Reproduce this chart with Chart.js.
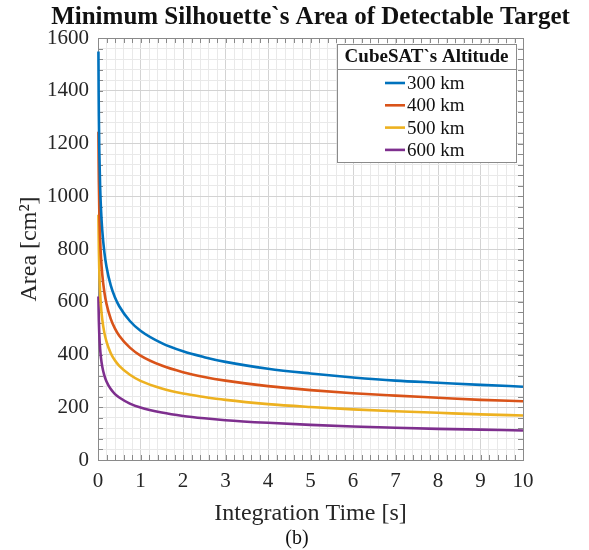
<!DOCTYPE html>
<html>
<head>
<meta charset="utf-8">
<title>Minimum Silhouette`s Area of Detectable Target</title>
<script src="https://cdn.jsdelivr.net/npm/chart.js@4.4.1/dist/chart.umd.min.js"></script>
<style>
  html, body { margin: 0; padding: 0; background: #fff; }
  #wrap { position: relative; width: 589px; height: 550px; }
</style>
</head>
<body>
<div id="wrap"><canvas id="area-chart" width="589" height="550"></canvas></div>
<script>
// ── Data ────────────────────────────────────────────────────

const integrationTime = [0.01, 0.015, 0.02, 0.03, 0.05, 0.07, 0.1, 0.15, 0.2, 0.3, 0.4, 0.5, 0.75,
                         1, 1.5, 2, 2.5, 3, 4, 5, 6, 7, 8, 9, 10];

const area300km = [1549, 1400, 1303, 1177, 1036, 952, 871, 787, 733, 662, 616, 583, 527,
                   490, 443, 412, 390, 372, 346, 328, 313, 301, 293, 285, 278];
const area400km = [1245, 1131, 1053, 952, 838, 769, 704, 636, 592, 535, 498, 471, 426,
                   396, 358, 333, 315, 301, 280, 265, 253, 244, 236, 228, 223];
const area500km = [930, 857, 798, 721, 635, 583, 533, 482, 449, 405, 377, 357, 323,
                   300, 271, 252, 239, 228, 212, 201, 192, 185, 179, 173, 169];
const area600km = [620, 569, 529, 478, 421, 387, 354, 320, 298, 269, 250, 237, 214,
                   199, 180, 167, 158, 151, 141, 133, 127, 122, 118, 115, 112];

const altitudeLabels = ['300 km', '400 km', '500 km', '600 km'];
const xMajorTicks = [0, 1, 2, 3, 4, 5, 6, 7, 8, 9, 10];
const yMajorTicks = [0, 200, 400, 600, 800, 1000, 1200, 1400, 1600];

// ── Style ───────────────────────────────────────────────────

const COLORS = ['#0072BD', '#D95319', '#EDB120', '#7E2F8E'];
const SERIF = '"Liberation Serif", "Times New Roman", serif';
const TEXT = '#262626';
const FRAME = '#8a8a8a';

const isMajor = (v, list) => list.some(m => Math.abs(m - v) < 1e-6);

const seriesList = [area300km, area400km, area500km, area600km];
const datasets = seriesList.map((values, i) => ({
    label: altitudeLabels[i],
    data: values.map((a, k) => ({ x: integrationTime[k], y: a })),
    borderColor: COLORS[i],
    borderWidth: 2.6,
    pointRadius: 0,
    cubicInterpolationMode: 'monotone',
    fill: false,
    clip: 3,
}));

// ── MATLAB-ish frame (under the lines) ──────────────────────

const matlabFrame = {
    id: 'matlabFrame',
    beforeDatasetsDraw(chart) {
        const { ctx, chartArea: a, scales: { x, y } } = chart;
        ctx.save();
        ctx.strokeStyle = FRAME;
        ctx.lineWidth = 1;

        // inside tick marks on all four edges
        ctx.beginPath();
        x.ticks.forEach(t => {
            const px = Math.round(x.getPixelForValue(t.value)) + 0.5;
            ctx.moveTo(px, a.bottom); ctx.lineTo(px, a.bottom - 5);
            ctx.moveTo(px, a.top); ctx.lineTo(px, a.top + 5);
        });
        y.ticks.forEach(t => {
            const py = Math.round(y.getPixelForValue(t.value)) + 0.5;
            ctx.moveTo(a.left, py); ctx.lineTo(a.left + 5, py);
            ctx.moveTo(a.right, py); ctx.lineTo(a.right - 5, py);
        });
        ctx.stroke();

        ctx.strokeRect(Math.round(a.left) + 0.5, Math.round(a.top) + 0.5,
                       Math.round(a.right - a.left), Math.round(a.bottom - a.top));
        ctx.restore();
    }
};

// ── Title, caption and boxed legend (on top) ────────────────

const overlayText = {
    id: 'overlayText',
    afterDraw(chart) {
        const { ctx, chartArea: a } = chart;
        ctx.save();

        ctx.fillStyle = '#111';
        ctx.textAlign = 'center';
        ctx.textBaseline = 'middle';
        ctx.font = 'bold 25px ' + SERIF;
        ctx.fillText('Minimum Silhouette`s Area of Detectable Target', (a.left + a.right) / 2, 18);

        ctx.font = '20px ' + SERIF;
        ctx.fillText('(b)', 297, 539);

        // legend
        const box = { left: 337, top: 44, right: 516, bottom: 162 };
        ctx.fillStyle = '#fff';
        ctx.fillRect(box.left, box.top, box.right - box.left, box.bottom - box.top);
        ctx.strokeStyle = FRAME;
        ctx.lineWidth = 1;
        ctx.strokeRect(box.left + 0.5, box.top + 0.5, box.right - box.left, box.bottom - box.top);
        ctx.beginPath();
        ctx.moveTo(box.left, 69.5); ctx.lineTo(box.right, 69.5);
        ctx.stroke();

        ctx.fillStyle = '#111';
        ctx.font = 'bold 19px ' + SERIF;
        ctx.fillText('CubeSAT`s Altitude', (box.left + box.right) / 2, 57);

        ctx.font = '19px ' + SERIF;
        ctx.textAlign = 'left';
        chart.data.datasets.forEach((ds, i) => {
            const rowY = 83 + i * 22.3;
            ctx.strokeStyle = ds.borderColor;
            ctx.lineWidth = 2.6;
            ctx.beginPath();
            ctx.moveTo(385, rowY); ctx.lineTo(405, rowY);
            ctx.stroke();
            ctx.fillStyle = '#111';
            ctx.fillText(ds.label, 407, rowY + 1);
        });

        ctx.restore();
    }
};

// ── Chart ───────────────────────────────────────────────────

new Chart(document.getElementById('area-chart'), {
    type: 'line',
    data: { datasets },
    plugins: [matlabFrame, overlayText],
    options: {
        responsive: false,
        animation: false,
        devicePixelRatio: 1,
        layout: { padding: { top: 38, right: 66, left: 0, bottom: 0 } },
        plugins: { legend: { display: false }, tooltip: { enabled: false } },
        scales: {
            x: {
                type: 'linear',
                min: 0,
                max: 10,
                border: { display: false },
                grid: {
                    drawTicks: false,
                    color: c => isMajor(c.tick.value, xMajorTicks) ? '#d3d3d3' : '#e9e9e9',
                },
                ticks: {
                    stepSize: 0.2,
                    autoSkip: false,
                    maxRotation: 0,
                    padding: 9,
                    color: TEXT,
                    font: { family: SERIF, size: 21 },
                    callback: v => isMajor(v, xMajorTicks) ? String(Math.round(v)) : '',
                },
                title: {
                    display: true,
                    text: 'Integration Time [s]',
                    color: TEXT,
                    font: { family: SERIF, size: 24 },
                    padding: { top: 0, bottom: 22 },
                },
                afterFit: s => { s.height = 90; },
            },
            y: {
                min: 0,
                max: 1600,
                border: { display: false },
                grid: {
                    drawTicks: false,
                    color: c => isMajor(c.tick.value, yMajorTicks) ? '#d3d3d3' : '#e9e9e9',
                },
                ticks: {
                    stepSize: 40,
                    autoSkip: false,
                    padding: 9,
                    color: TEXT,
                    font: { family: SERIF, size: 21 },
                    callback: v => isMajor(v, yMajorTicks) ? String(v) : '',
                },
                title: {
                    display: true,
                    text: 'Area [cm²]',
                    color: TEXT,
                    font: { family: SERIF, size: 24 },
                    padding: { top: 15, bottom: 0 },
                },
                afterFit: s => { s.width = 98; },
            },
        },
    },
});
</script>
</body>
</html>
